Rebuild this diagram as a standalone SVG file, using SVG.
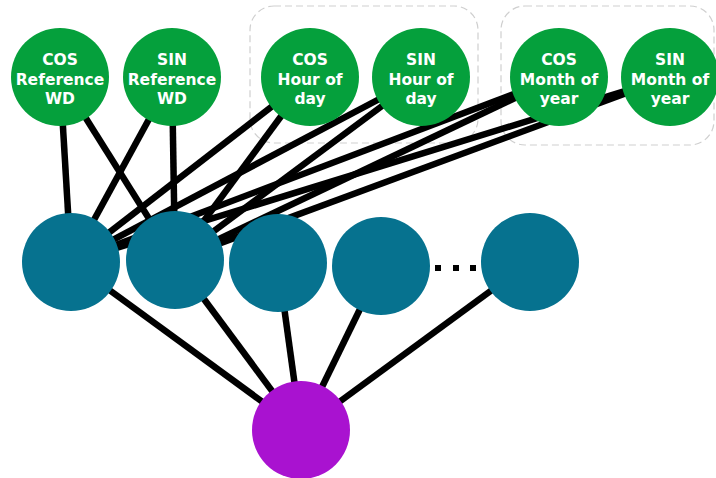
<svg xmlns="http://www.w3.org/2000/svg" width="716" height="478" viewBox="0 0 716 478">
<style>
.grp{fill:none;stroke:#cfcfcf;stroke-width:1.2;stroke-dasharray:7 4}
.edge{stroke:#000;stroke-width:6.5;fill:none}
.in{fill:#05a03c}
.hid{fill:#06728f}
.out{fill:#a912d0}
.lbl{font-family:"DejaVu Sans","Liberation Sans",sans-serif;font-weight:bold;font-size:15.5px;fill:#fff;text-anchor:middle}
</style>
<g id="groups">
<rect class="grp" x="250" y="6" width="228" height="137" rx="24"/>
<rect class="grp" x="501" y="6" width="213" height="139" rx="24"/>
</g>
<g id="connectors">
<line class="edge" x1="60" y1="77" x2="71" y2="262"/>
<line class="edge" x1="60" y1="77" x2="175" y2="260"/>
<line class="edge" x1="172" y1="77" x2="71" y2="262"/>
<line class="edge" x1="172" y1="77" x2="175" y2="260"/>
<line class="edge" x1="310" y1="77" x2="71" y2="262"/>
<line class="edge" x1="310" y1="77" x2="175" y2="260"/>
<line class="edge" x1="421" y1="77" x2="71" y2="262"/>
<line class="edge" x1="421" y1="77" x2="175" y2="260"/>
<line class="edge" x1="559" y1="77" x2="71" y2="262"/>
<line class="edge" x1="559" y1="77" x2="175" y2="260"/>
<line class="edge" x1="670" y1="77" x2="71" y2="262"/>
<line class="edge" x1="670" y1="77" x2="175" y2="260"/>
<line class="edge" x1="71" y1="262" x2="301" y2="430"/>
<line class="edge" x1="175" y1="260" x2="301" y2="430"/>
<line class="edge" x1="278" y1="263" x2="301" y2="430"/>
<line class="edge" x1="381" y1="266" x2="301" y2="430"/>
<line class="edge" x1="530" y1="262" x2="301" y2="430"/>
</g>
<g id="in-cos-ref">
<circle class="in" cx="60" cy="77" r="49"/>
<text class="lbl" x="60" y="65">COS</text>
<text class="lbl" x="60" y="85">Reference</text>
<text class="lbl" x="60" y="104">WD</text>
</g>
<g id="in-sin-ref">
<circle class="in" cx="172" cy="77" r="49"/>
<text class="lbl" x="172" y="65">SIN</text>
<text class="lbl" x="172" y="85">Reference</text>
<text class="lbl" x="172" y="104">WD</text>
</g>
<g id="in-cos-hour">
<circle class="in" cx="310" cy="77" r="49"/>
<text class="lbl" x="310" y="65">COS</text>
<text class="lbl" x="310" y="85">Hour of</text>
<text class="lbl" x="310" y="104">day</text>
</g>
<g id="in-sin-hour">
<circle class="in" cx="421" cy="77" r="49"/>
<text class="lbl" x="421" y="65">SIN</text>
<text class="lbl" x="421" y="85">Hour of</text>
<text class="lbl" x="421" y="104">day</text>
</g>
<g id="in-cos-month">
<circle class="in" cx="559" cy="77" r="49"/>
<text class="lbl" x="559" y="65">COS</text>
<text class="lbl" x="559" y="85">Month of</text>
<text class="lbl" x="559" y="104">year</text>
</g>
<g id="in-sin-month">
<circle class="in" cx="670" cy="77" r="49"/>
<text class="lbl" x="670" y="65">SIN</text>
<text class="lbl" x="670" y="85">Month of</text>
<text class="lbl" x="670" y="104">year</text>
</g>
<g id="hidden-1"><circle class="hid" cx="71" cy="262" r="49"/></g>
<g id="hidden-2"><circle class="hid" cx="175" cy="260" r="49"/></g>
<g id="hidden-3"><circle class="hid" cx="278" cy="263" r="49"/></g>
<g id="hidden-4"><circle class="hid" cx="381" cy="266" r="49"/></g>
<g id="hidden-n"><circle class="hid" cx="530" cy="262" r="49"/></g>
<g id="ellipsis" fill="#000">
<rect x="435" y="265" width="6" height="6"/>
<rect x="453" y="265" width="6" height="6"/>
<rect x="470" y="265" width="6" height="6"/>
</g>
<g id="output"><circle class="out" cx="301" cy="430" r="49"/></g>
</svg>
